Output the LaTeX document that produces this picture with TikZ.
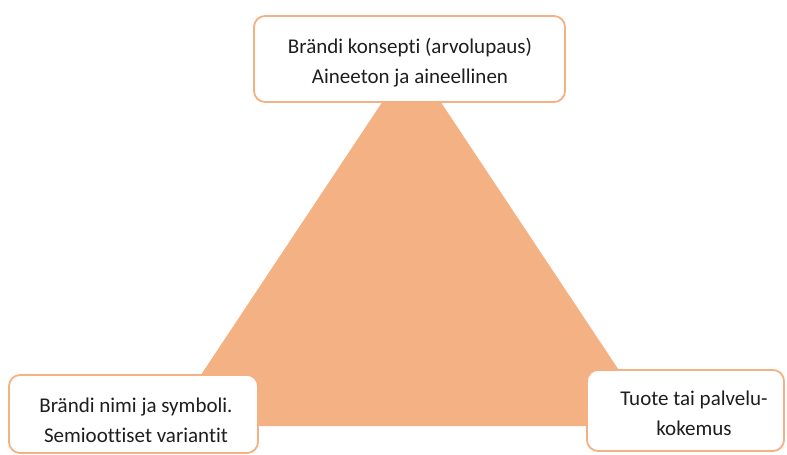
\documentclass[tikz,border=0pt]{standalone}
\usepackage{fontspec}
\setmainfont[Ligatures=CommonOff]{Carlito}
\usepackage{xcolor}
\usetikzlibrary{positioning}
\definecolor{peach}{HTML}{F4B183}
\definecolor{ink}  {HTML}{1E1E1E}

\begin{document}
\begin{tikzpicture}[x=1pt,y=-1pt,
  corner/.style={draw=peach,line width=1.8pt,fill=white,rounded corners=11pt},
  caption/.style={align=center,text=ink,inner sep=0pt,
    font=\fontsize{21}{30}\selectfont}]
  \useasboundingbox (0,0) rectangle (787,455);

  % the triangle behind the three corners
  \fill[peach] (411.5,58) -- (656,426) -- (167,426) -- cycle;

  \node[corner,minimum width=311pt,minimum height=86pt] (konsepti) at (409.5,59) {};
  \node[caption] (konsepti-t) at (410,63)
    {Brändi konsepti (arvolupaus)\\Aineeton ja aineellinen};

  \node[corner,minimum width=249pt,minimum height=78pt] (nimi) at (133.5,414) {};
  \node[caption] (nimi-t) at (136,420)
    {Brändi nimi ja symboli.\\Semioottiset variantit};

  \node[corner,minimum width=197pt,minimum height=81pt] (tuote) at (685.5,410.5) {};
  \node[caption] (tuote-t) at (694,413)
    {Tuote tai palvelu-\\kokemus};
\end{tikzpicture}
\end{document}
